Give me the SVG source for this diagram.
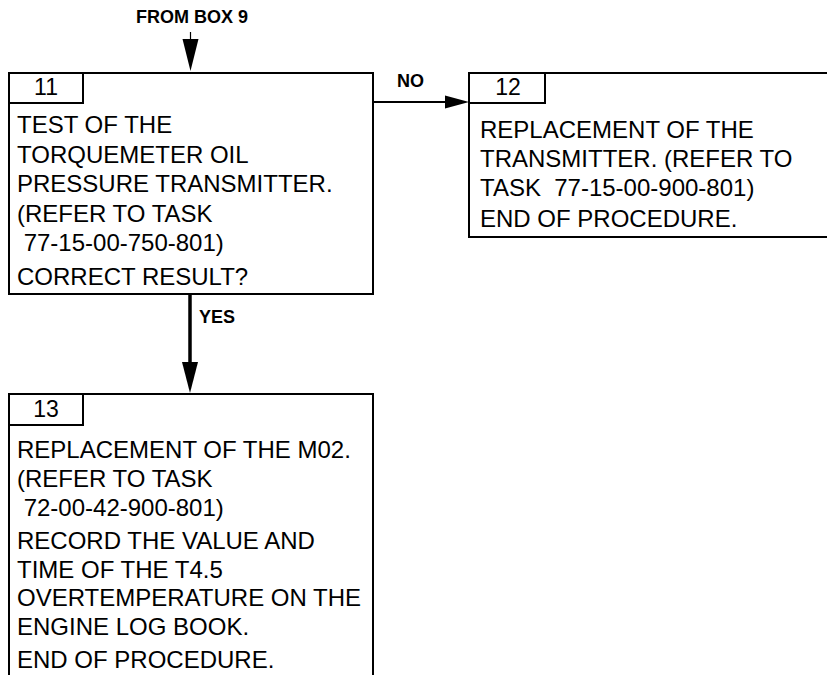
<svg xmlns="http://www.w3.org/2000/svg" width="827" height="675" viewBox="0 0 827 675">
<defs>
<style>
.box{fill:#fff;stroke:#000;stroke-width:2}
.tab{fill:none;stroke:#000;stroke-width:2}
.t{font-family:"Liberation Sans",Arial,sans-serif;font-size:24px;fill:#000}
.n{font-family:"Liberation Sans",Arial,sans-serif;font-size:23px;fill:#000;text-anchor:middle}
.lbl{font-family:"Liberation Sans",Arial,sans-serif;font-size:18px;font-weight:bold;fill:#000}
.ln{stroke:#000;fill:none}
.head{fill:#000;stroke:none}
</style>
</defs>
<rect width="827" height="675" fill="#fff"/>
<g id="connectors">
<text class="lbl" x="136" y="23">FROM BOX 9</text>
<line class="ln" x1="190.5" y1="32" x2="190.5" y2="42" stroke-width="1.2"/>
<polygon class="head" points="182.5,39 198.5,39 190.5,71"/>
<line class="ln" x1="374" y1="102" x2="447" y2="102" stroke-width="2"/>
<polygon class="head" points="445,95.5 469,102 445,108.5"/>
<text class="lbl" x="397" y="87">NO</text>
<line class="ln" x1="190" y1="295" x2="190" y2="364" stroke-width="3.5"/>
<polygon class="head" points="182,362 198,362 190,393"/>
<text class="lbl" x="199" y="323">YES</text>
</g>
<g id="box11">
<rect class="box" x="9" y="73" width="364" height="221"/>
<polyline class="tab" points="9,103 83,103 83,73"/>
<text class="n" x="46" y="95">11</text>
<text class="t" x="17" y="133">TEST OF THE</text>
<text class="t" x="17" y="162.5">TORQUEMETER OIL</text>
<text class="t" x="17" y="192">PRESSURE TRANSMITTER.</text>
<text class="t" x="17" y="221.5">(REFER TO TASK</text>
<text class="t" x="17" y="251" xml:space="preserve"> 77-15-00-750-801)</text>
<text class="t" x="17" y="285">CORRECT RESULT?</text>
</g>
<g id="box12">
<rect class="box" x="469" y="73" width="370" height="164"/>
<polyline class="tab" points="469,103 545,103 545,73"/>
<text class="n" x="508" y="95">12</text>
<text class="t" x="480" y="138">REPLACEMENT OF THE</text>
<text class="t" x="480" y="167">TRANSMITTER. (REFER TO</text>
<text class="t" x="480" y="195.5" xml:space="preserve">TASK  77-15-00-900-801)</text>
<text class="t" x="480" y="227">END OF PROCEDURE.</text>
</g>
<g id="box13">
<rect class="box" x="9" y="394" width="364" height="300"/>
<polyline class="tab" points="9,425 83,425 83,394"/>
<text class="n" x="46" y="417">13</text>
<text class="t" x="17" y="458">REPLACEMENT OF THE M02.</text>
<text class="t" x="17" y="487">(REFER TO TASK</text>
<text class="t" x="17" y="516" xml:space="preserve"> 72-00-42-900-801)</text>
<text class="t" x="17" y="549">RECORD THE VALUE AND</text>
<text class="t" x="17" y="577.5">TIME OF THE T4.5</text>
<text class="t" x="17" y="606">OVERTEMPERATURE ON THE</text>
<text class="t" x="17" y="635">ENGINE LOG BOOK.</text>
<text class="t" x="17" y="668">END OF PROCEDURE.</text>
</g>
</svg>
